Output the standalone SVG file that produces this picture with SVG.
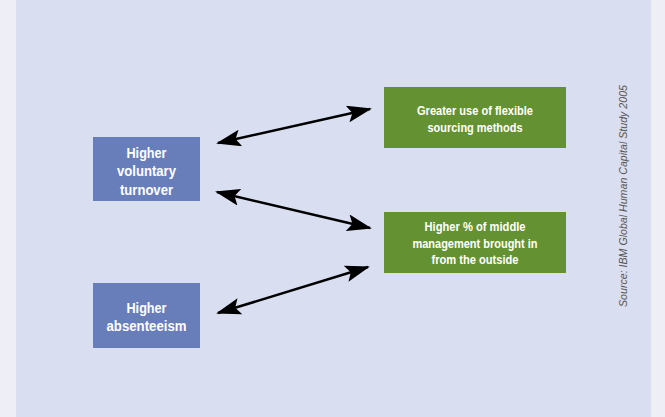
<svg xmlns="http://www.w3.org/2000/svg" width="665" height="417" viewBox="0 0 665 417">
<defs>
<style>
.blue{fill:#687EBB}
.green{fill:#649232}
.t{font-family:"Liberation Sans",Arial,sans-serif;font-weight:bold;fill:#fff;text-anchor:middle}
.tb{font-size:14.5px}
.tg{font-size:12.5px}
.conn{stroke:#000;stroke-width:2.5;fill:none;marker-start:url(#ah);marker-end:url(#ah)}
.src{font-family:"Liberation Sans",Arial,sans-serif;font-style:italic;font-size:11.5px;fill:#555;text-anchor:middle}
</style>
<marker id="ah" viewBox="0 0 25 17" refX="23" refY="8.5" markerWidth="25" markerHeight="17" markerUnits="userSpaceOnUse" orient="auto-start-reverse">
<path d="M0,0 L25,8.5 L0,17 L5,8.5 Z" fill="#000"/>
</marker>
</defs>
<rect x="0" y="0" width="665" height="417" fill="#EEEEF6"/>
<rect x="16" y="0" width="635" height="417" fill="#D9DEF0"/>
<g id="connectors">
<line class="conn" x1="218" y1="143" x2="370" y2="109"/>
<line class="conn" x1="217" y1="192" x2="370" y2="228"/>
<line class="conn" x1="218" y1="313" x2="368" y2="267"/>
</g>
<g id="node-turnover">
<rect class="blue" x="93" y="137" width="107" height="64"/>
<text class="t tb" x="146.5" y="157.5" textLength="40" lengthAdjust="spacingAndGlyphs">Higher</text>
<text class="t tb" x="146.5" y="176" textLength="59" lengthAdjust="spacingAndGlyphs">voluntary</text>
<text class="t tb" x="146.5" y="194.5" textLength="53" lengthAdjust="spacingAndGlyphs">turnover</text>
</g>
<g id="node-absenteeism">
<rect class="blue" x="93" y="283" width="107" height="65"/>
<text class="t tb" x="146.5" y="312.5" textLength="40" lengthAdjust="spacingAndGlyphs">Higher</text>
<text class="t tb" x="146.5" y="330.5" textLength="80" lengthAdjust="spacingAndGlyphs">absenteeism</text>
</g>
<g id="node-flexible">
<rect class="green" x="384" y="87" width="182" height="61"/>
<text class="t tg" x="475" y="115" textLength="116" lengthAdjust="spacingAndGlyphs">Greater use of flexible</text>
<text class="t tg" x="475" y="131.5" textLength="95" lengthAdjust="spacingAndGlyphs">sourcing methods</text>
</g>
<g id="node-middle">
<rect class="green" x="384" y="212" width="182" height="61"/>
<text class="t tg" x="475" y="231" textLength="101" lengthAdjust="spacingAndGlyphs">Higher % of middle</text>
<text class="t tg" x="475" y="247.5" textLength="125" lengthAdjust="spacingAndGlyphs">management brought in</text>
<text class="t tg" x="475" y="264" textLength="87" lengthAdjust="spacingAndGlyphs">from the outside</text>
</g>
<text class="src" transform="translate(627,196) rotate(-90)" textLength="222" lengthAdjust="spacingAndGlyphs">Source: IBM Global Human Capital Study 2005</text>
</svg>
